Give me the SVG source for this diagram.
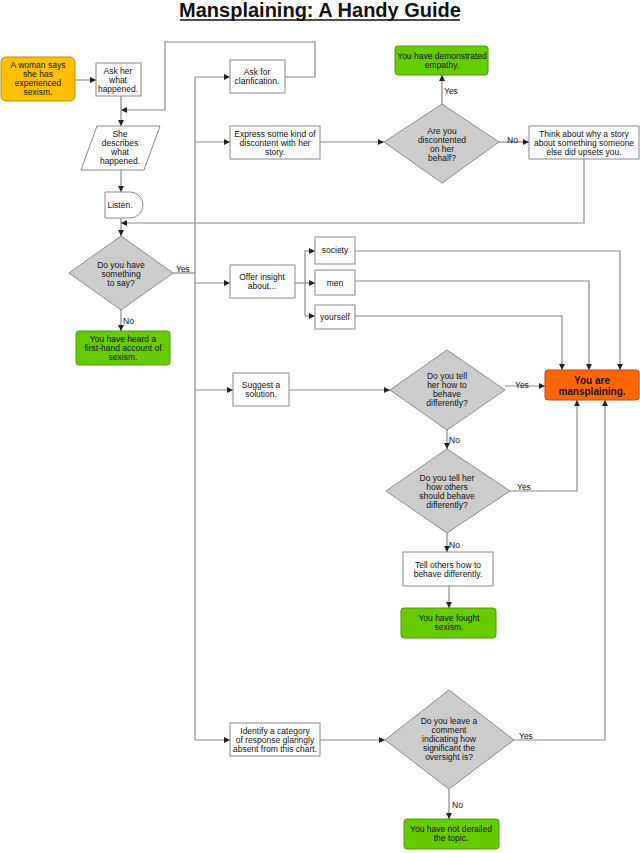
<svg xmlns="http://www.w3.org/2000/svg" width="640" height="853" viewBox="0 0 640 853">
<style>
text{font-family:"Liberation Sans",Arial,sans-serif;font-size:8.5px;fill:#111;text-anchor:middle}
.box{fill:#fff;stroke:#888;stroke-width:1}
.dia{fill:#ccc;stroke:#888;stroke-width:1}
.grn{fill:#66cc00;stroke:#4c9900;stroke-width:1}
.c line,.c polyline{fill:none;stroke:#888;stroke-width:1.2}
.lbl{text-anchor:start}
</style>
<defs><marker id="a" viewBox="0 0 6 6" refX="6" refY="3" markerWidth="5" markerHeight="5" orient="auto"><path d="M0,0L6,3L0,6z" fill="#222"/></marker></defs>
<rect width="640" height="853" fill="#fff"/>
<text x="320" y="17" style="font-size:20px;font-weight:bold">Mansplaining: A Handy Guide</text>
<line x1="180" y1="20" x2="460" y2="20" stroke="#111" stroke-width="1.5"/>
<g class="c">
<line x1="75" y1="80" x2="96" y2="80" marker-end="url(#a)"/>
<polyline points="285,77 315,77 315,42 165,42 165,110 121,110" marker-end="url(#a)"/>
<line x1="121" y1="96" x2="121" y2="126" marker-end="url(#a)"/>
<line x1="121" y1="170" x2="121" y2="192" marker-end="url(#a)"/>
<polyline points="584,159 584,223 121,223" marker-end="url(#a)"/>
<line x1="121" y1="218" x2="121" y2="236" marker-end="url(#a)"/>
<line x1="121" y1="310" x2="121" y2="331" marker-end="url(#a)"/>
<polyline points="173,273 195,273"/>
<line x1="195" y1="77" x2="195" y2="740"/>
<line x1="195" y1="77" x2="230" y2="77" marker-end="url(#a)"/>
<line x1="195" y1="142" x2="230" y2="142" marker-end="url(#a)"/>
<line x1="195" y1="283" x2="230" y2="283" marker-end="url(#a)"/>
<line x1="195" y1="390" x2="233" y2="390" marker-end="url(#a)"/>
<line x1="195" y1="740" x2="230" y2="740" marker-end="url(#a)"/>
<line x1="320" y1="142" x2="384" y2="142" marker-end="url(#a)"/>
<line x1="442" y1="104" x2="442" y2="75" marker-end="url(#a)"/>
<line x1="499" y1="142" x2="529" y2="142" marker-end="url(#a)"/>
<line x1="295" y1="283" x2="315" y2="283" marker-end="url(#a)"/>
<polyline points="305,283 305,251 315,251" marker-end="url(#a)"/>
<polyline points="305,283 305,316 315,316" marker-end="url(#a)"/>
<polyline points="355,251 620,251 620,370" marker-end="url(#a)"/>
<polyline points="355,281 589,281 589,370" marker-end="url(#a)"/>
<polyline points="355,316 562,316 562,370" marker-end="url(#a)"/>
<line x1="289" y1="390" x2="390" y2="390" marker-end="url(#a)"/>
<line x1="505" y1="386" x2="545" y2="386" marker-end="url(#a)"/>
<line x1="447" y1="430" x2="447" y2="449" marker-end="url(#a)"/>
<polyline points="510,491 577,491 577,400" marker-end="url(#a)"/>
<line x1="447" y1="533" x2="447" y2="552" marker-end="url(#a)"/>
<line x1="449" y1="586" x2="449" y2="608" marker-end="url(#a)"/>
<line x1="320" y1="740" x2="385" y2="740" marker-end="url(#a)"/>
<polyline points="514,740 605,740 605,400" marker-end="url(#a)"/>
<line x1="449" y1="789" x2="449" y2="819" marker-end="url(#a)"/>
</g>
<g class="lbl">
<text class="lbl" x="176" y="272">Yes</text>
<text class="lbl" x="123" y="324">No</text>
<text class="lbl" x="444" y="94">Yes</text>
<text class="lbl" x="507" y="143">No</text>
<text class="lbl" x="515" y="388">Yes</text>
<text class="lbl" x="449" y="443">No</text>
<text class="lbl" x="517" y="490">Yes</text>
<text class="lbl" x="449" y="548">No</text>
<text class="lbl" x="519" y="739">Yes</text>
<text class="lbl" x="452" y="808">No</text>
</g>
<g id="start"><rect x="1" y="57" width="74" height="44" rx="5" fill="#ffc000" stroke="#b8920a"/><text x="38" y="68">A woman says</text><text x="38" y="77">she has</text><text x="38" y="86">experienced</text><text x="38" y="95">sexism.</text></g>
<g id="ask"><rect class="box" x="96" y="63" width="45" height="33"/><text x="118" y="74">Ask her</text><text x="118" y="83">what</text><text x="118" y="92">happened.</text></g>
<g id="describes"><polygon class="dia" style="fill:#fff" points="97,126 160,126 144,170 81,170"/><text x="120" y="137">She</text><text x="120" y="146">describes</text><text x="120" y="155">what</text><text x="120" y="164">happened.</text></g>
<g id="listen"><path class="box" d="M105,192H130A13,13 0 0 1 130,218H105Z"/><text x="120" y="208">Listen.</text></g>
<g id="d1"><polygon class="dia" points="121,236 173,273 121,310 69,273"/><text x="121" y="268">Do you have</text><text x="121" y="277">something</text><text x="121" y="286">to say?</text></g>
<g id="heard"><rect class="grn" x="76" y="331" width="94" height="34" rx="3"/><text x="123" y="342">You have heard a</text><text x="123" y="351">first-hand account of</text><text x="123" y="360">sexism.</text></g>
<g id="clar"><rect class="box" x="230" y="60" width="55" height="33"/><text x="257" y="75">Ask for</text><text x="257" y="84">clarification.</text></g>
<g id="express"><rect class="box" x="230" y="126" width="90" height="33"/><text x="275" y="137">Express some kind of</text><text x="275" y="146">discontent with her</text><text x="275" y="155">story.</text></g>
<g id="d2"><polygon class="dia" points="442,104 499,142 442,183 384,142"/><text x="442" y="134">Are you</text><text x="442" y="143">discontented</text><text x="442" y="152">on her</text><text x="442" y="161">behalf?</text></g>
<g id="empathy"><rect class="grn" x="395" y="46" width="93" height="29" rx="3"/><text x="442" y="59">You have demonstrated</text><text x="442" y="68">empathy.</text></g>
<g id="think"><rect class="box" x="529" y="126" width="110" height="33"/><text x="584" y="137">Think about why a story</text><text x="584" y="146">about something someone</text><text x="584" y="155">else did upsets you.</text></g>
<g id="insight"><rect class="box" x="230" y="265" width="65" height="33"/><text x="262" y="280">Offer insight</text><text x="262" y="289">about...</text></g>
<g id="society"><rect class="box" x="315" y="237" width="40" height="27"/><text x="335" y="253">society</text></g>
<g id="men"><rect class="box" x="315" y="270" width="40" height="25"/><text x="335" y="286">men</text></g>
<g id="yourself"><rect class="box" x="315" y="305" width="40" height="24"/><text x="335" y="320">yourself</text></g>
<g id="mansplaining"><rect x="545" y="370" width="94" height="30" rx="3" fill="#ff6600" stroke="#c04a00"/><text x="592" y="384" style="font-size:10px;font-weight:bold">You are</text><text x="592" y="395" style="font-size:10px;font-weight:bold">mansplaining.</text></g>
<g id="suggest"><rect class="box" x="233" y="373" width="56" height="33"/><text x="261" y="388">Suggest a</text><text x="261" y="397">solution.</text></g>
<g id="d3"><polygon class="dia" points="447,350 505,390 447,430 390,390"/><text x="447" y="379">Do you tell</text><text x="447" y="388">her how to</text><text x="447" y="397">behave</text><text x="447" y="406">differently?</text></g>
<g id="d4"><polygon class="dia" points="447,449 510,491 447,533 386,491"/><text x="447" y="481">Do you tell her</text><text x="447" y="490">how others</text><text x="447" y="499">should behave</text><text x="447" y="508">differently?</text></g>
<g id="tell"><rect class="box" x="403" y="552" width="90" height="34"/><text x="448" y="568">Tell others how to</text><text x="448" y="577">behave differently.</text></g>
<g id="fought"><rect class="grn" x="401" y="608" width="95" height="30" rx="3"/><text x="449" y="621">You have fought</text><text x="449" y="630">sexism.</text></g>
<g id="identify"><rect class="box" x="230" y="723" width="90" height="33"/><text x="275" y="734">Identify a category</text><text x="275" y="743">of response glaringly</text><text x="275" y="752">absent from this chart.</text></g>
<g id="d5"><polygon class="dia" points="449,690 514,740 449,789 385,740"/><text x="449" y="724">Do you leave a</text><text x="449" y="733">comment</text><text x="449" y="742">indicating how</text><text x="449" y="751">significant the</text><text x="449" y="760">oversight is?</text></g>
<g id="derailed"><rect class="grn" x="404" y="819" width="95" height="30" rx="3"/><text x="451" y="832">You have not derailed</text><text x="451" y="841">the topic.</text></g>
</svg>
